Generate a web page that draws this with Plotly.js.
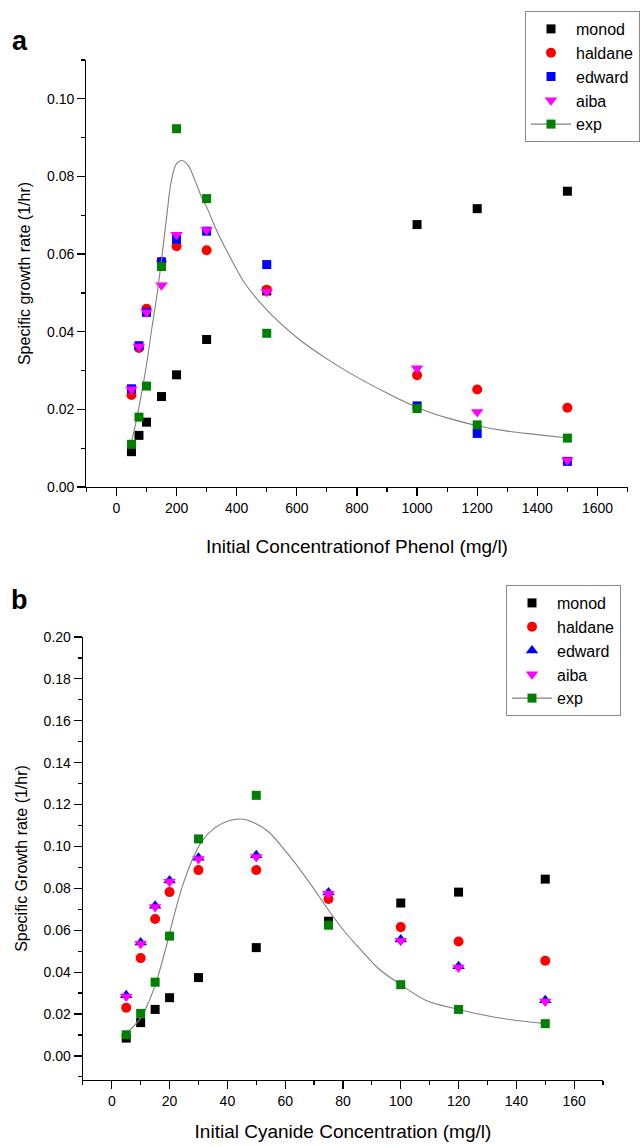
<!DOCTYPE html>
<html><head><meta charset="utf-8">
<script src="https://cdn.plot.ly/plotly-3.0.1.min.js"></script>
<style>html,body{margin:0;padding:0;background:#fff}</style>
</head><body><div id="chart" style="width:640px;height:1147px"></div>
<script>
// ---------- Panel a: phenol ----------
const phenolConc = [50, 75, 100, 150, 200, 300, 500, 1000, 1200, 1500];
const phenolMonod = [0.0091, 0.0133, 0.0167, 0.0233, 0.0289, 0.0380, 0.0505, 0.0676, 0.0717, 0.0762];
const phenolHaldane = [0.0237, 0.0358, 0.0459, 0.0580, 0.0620, 0.0610, 0.0508, 0.0288, 0.0251, 0.0204];
const phenolEdward = [0.0253, 0.0364, 0.0450, 0.0580, 0.0638, 0.0659, 0.0573, 0.0209, 0.0138, 0.0066];
const phenolAiba = [0.0252, 0.0362, 0.0450, 0.0520, 0.0650, 0.0662, 0.0503, 0.0306, 0.0193, 0.0069];
const phenolExp = [0.0110, 0.0180, 0.0260, 0.0568, 0.0923, 0.0743, 0.0396, 0.0202, 0.0160, 0.0126];
const phenolFitX = [51, 67, 84, 101, 117, 134, 150, 167, 183, 200, 219, 239, 261, 283, 300, 338, 383, 427, 500, 600, 700, 800, 900, 1000, 1100, 1200, 1300, 1400, 1494];
const phenolFitY = [0.0119, 0.0174, 0.0243, 0.0320, 0.0405, 0.0490, 0.0585, 0.0696, 0.0790, 0.0833, 0.0841, 0.0828, 0.0790, 0.0747, 0.0721, 0.0653, 0.0585, 0.0525, 0.0456, 0.0385, 0.0330, 0.0283, 0.0242, 0.0205, 0.0178, 0.0158, 0.0144, 0.0135, 0.0127];

// ---------- Panel b: cyanide ----------
const cyanideConc = [5, 10, 15, 20, 30, 50, 75, 100, 120, 150];
const cyanideMonod = [0.0085, 0.0159, 0.0222, 0.0278, 0.0374, 0.0517, 0.0643, 0.0730, 0.0782, 0.0844];
const cyanideHaldane = [0.0230, 0.0467, 0.0654, 0.0782, 0.0887, 0.0888, 0.0749, 0.0615, 0.0546, 0.0454];
const cyanideEdward = [0.0290, 0.0541, 0.0717, 0.0838, 0.0946, 0.0958, 0.0780, 0.0556, 0.0428, 0.0266];
const cyanideAiba = [0.0284, 0.0535, 0.0711, 0.0832, 0.0940, 0.0950, 0.0774, 0.0550, 0.0422, 0.0260];
const cyanideExp = [0.0101, 0.0203, 0.0352, 0.0572, 0.1036, 0.1244, 0.0624, 0.0340, 0.0222, 0.0154];
const cyanideFitX = [5.7, 9.9, 12.8, 15.7, 18.6, 21.5, 24.4, 27.8, 31.3, 35.9, 40.5, 44.8, 49.8, 54.4, 59.0, 63.6, 69.4, 74.9, 80.9, 85.5, 92.5, 100, 108.6, 120, 131.7, 140.9, 150];
const cyanideFitY = [0.0116, 0.0179, 0.0258, 0.0368, 0.0509, 0.0667, 0.0808, 0.0934, 0.1028, 0.1091, 0.1123, 0.1131, 0.1110, 0.1068, 0.0997, 0.0918, 0.0808, 0.0698, 0.0588, 0.0517, 0.0415, 0.0340, 0.0266, 0.0222, 0.0187, 0.0168, 0.0154];

const seriesNames = ['monod', 'haldane', 'edward', 'aiba', 'exp'];
const panelLetters = ['a', 'b'];
const xTitles = ['Initial Concentrationof Phenol (mg/l)', 'Initial Cyanide Concentration (mg/l)'];
const yTitles = ['Specific growth rate (1/hr)', 'Specific Growth rate (1/hr)'];

const FONT = 'Liberation Sans, Arial, Helvetica, sans-serif';
const W = 640, H = 1147;
const px = v => v / W;
const py = v => 1 - v / H;

function panelTraces(xs, mon, hal, edw, aib, expv, fx, fy, xa, ya, leg, edwSymbol) {
  const t = [];
  const base = {x: xs, type: 'scatter', mode: 'markers', xaxis: xa, yaxis: ya, legend: leg, cliponaxis: false};
  t.push(Object.assign({}, base, {y: mon, name: seriesNames[0], marker: {symbol: 'square', size: 9, color: '#000000'}}));
  t.push(Object.assign({}, base, {y: hal, name: seriesNames[1], marker: {symbol: 'circle', size: 10, color: '#ff0000'}}));
  t.push(Object.assign({}, base, {y: edw, name: seriesNames[2], marker: {symbol: edwSymbol, size: edwSymbol === 'square' ? 9 : 11, color: '#0000ff'}}));
  t.push(Object.assign({}, base, {y: aib, name: seriesNames[3], marker: {symbol: 'triangle-down', size: 11, color: '#ff00ff'}}));
  // fitted curve
  t.push({x: fx, y: fy, type: 'scatter', mode: 'lines', xaxis: xa, yaxis: ya, legend: leg, showlegend: false,
          line: {color: '#808080', width: 1.1, shape: 'spline', smoothing: 1}, name: 'fit', hoverinfo: 'skip'});
  // experimental points
  t.push(Object.assign({}, base, {y: expv, name: seriesNames[4], showlegend: false, legendgroup: 'exp' + leg,
          marker: {symbol: 'square', size: 9, color: '#008000'}}));
  // legend entry for exp (line + marker)
  t.push({x: [null], y: [null], type: 'scatter', mode: 'lines+markers', xaxis: xa, yaxis: ya, legend: leg,
          name: seriesNames[4], legendgroup: 'exp' + leg,
          line: {color: '#808080', width: 1.1}, marker: {symbol: 'square', size: 9, color: '#008000'}});
  return t;
}

const data = [].concat(
  panelTraces(phenolConc, phenolMonod, phenolHaldane, phenolEdward, phenolAiba, phenolExp, phenolFitX, phenolFitY, 'x', 'y', 'legend', 'square'),
  panelTraces(cyanideConc, cyanideMonod, cyanideHaldane, cyanideEdward, cyanideAiba, cyanideExp, cyanideFitX, cyanideFitY, 'x2', 'y2', 'legend2', 'triangle-up')
);

const axisCommon = {
  showline: true, linecolor: '#000', linewidth: 1.2, mirror: false,
  showgrid: false, zeroline: false,
  ticks: 'outside', ticklen: 8, tickwidth: 1.2, tickcolor: '#000',
  tickfont: {family: FONT, size: 14, color: '#000'},
  automargin: false, fixedrange: true
};

const legendCommon = {
  bgcolor: '#ffffff', bordercolor: '#8a8a8a', borderwidth: 1,
  font: {family: FONT, size: 16, color: '#000'},
  xanchor: 'left', yanchor: 'top', tracegroupgap: 0, itemwidth: 40
};

const layout = {
  width: W, height: H,
  margin: {l: 0, r: 0, t: 0, b: 0},
  paper_bgcolor: '#fff', plot_bgcolor: '#fff',
  font: {family: FONT, color: '#000'},
  hovermode: false,
  xaxis: Object.assign({}, axisCommon, {
    domain: [px(86.5), px(628.5)], anchor: 'y', range: [-100, 1700],
    tick0: 0, dtick: 200,
    minor: {dtick: 100, tick0: 0, ticks: 'outside', ticklen: 4, tickwidth: 1.2, tickcolor: '#000'},
    title: {text: xTitles[0], font: {family: FONT, size: 19, color: '#000'}, standoff: 24}
  }),
  yaxis: Object.assign({}, axisCommon, {
    domain: [py(487), py(60)], anchor: 'x', range: [0, 0.11],
    tick0: 0, dtick: 0.02, tickformat: '.2f',
    minor: {dtick: 0.01, tick0: 0, ticks: 'outside', ticklen: 4, tickwidth: 1.2, tickcolor: '#000'},
    title: {text: yTitles[0], font: {family: FONT, size: 16, color: '#000'}, standoff: 12}
  }),
  xaxis2: Object.assign({}, axisCommon, {
    domain: [px(83), px(604)], anchor: 'y2', range: [-10, 170],
    tick0: 0, dtick: 20,
    minor: {dtick: 10, tick0: 0, ticks: 'outside', ticklen: 4, tickwidth: 1.2, tickcolor: '#000'},
    title: {text: xTitles[1], font: {family: FONT, size: 19, color: '#000'}, standoff: 16}
  }),
  yaxis2: Object.assign({}, axisCommon, {
    domain: [py(1080), py(637)], anchor: 'x2', range: [-0.0115, 0.2],
    tick0: 0, dtick: 0.02, tickformat: '.2f',
    minor: {dtick: 0.01, tick0: 0, ticks: 'outside', ticklen: 4, tickwidth: 1.2, tickcolor: '#000'},
    title: {text: yTitles[1], font: {family: FONT, size: 16, color: '#000'}, standoff: 12}
  }),
  legend: Object.assign({}, legendCommon, {x: px(526), y: py(11)}),
  legend2: Object.assign({}, legendCommon, {x: px(506), y: py(585)}),
  annotations: [
    {text: '<b>' + panelLetters[0] + '</b>', xref: 'paper', yref: 'paper', x: px(20), y: py(41), showarrow: false,
     font: {family: FONT, size: 27, color: '#000'}, xanchor: 'center', yanchor: 'middle'},
    {text: '<b>' + panelLetters[1] + '</b>', xref: 'paper', yref: 'paper', x: px(20), y: py(600), showarrow: false,
     font: {family: FONT, size: 27, color: '#000'}, xanchor: 'center', yanchor: 'middle'}
  ]
};

Plotly.newPlot('chart', data, layout, {displayModeBar: false, staticPlot: true});
</script>
</body></html>
